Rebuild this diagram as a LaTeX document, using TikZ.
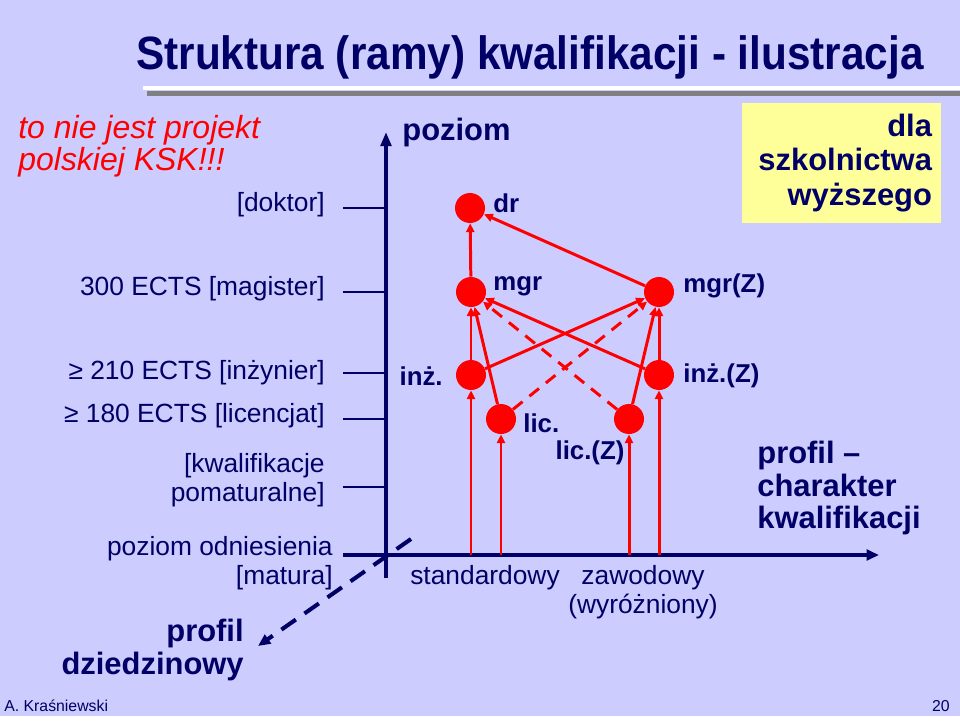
\documentclass[tikz,border=0pt]{standalone}
\usepackage{fontspec}
\setmainfont{Liberation Sans}
\usepackage{graphicx}
\usetikzlibrary{arrows.meta}
\definecolor{slidebg}{RGB}{204,204,255}
\definecolor{navy}{RGB}{0,0,102}
\definecolor{notebg}{RGB}{255,255,153}

\begin{document}
\begin{tikzpicture}[
  x=0.02cm, y=-0.02cm,
  dot/.style={circle, fill=red, inner sep=0pt, minimum size=0.6cm},
  lvl/.style={font=\fontsize{14.7}{16}\selectfont\bfseries, text=navy, inner sep=0pt},
  ects/.style={font=\fontsize{15}{16.5}\selectfont, text=navy, align=right, inner sep=0pt, anchor=east},
  big/.style={font=\fontsize{17.6}{18.7}\selectfont\bfseries, text=navy, inner sep=0pt},
  up/.style={-{Triangle[length=5pt,width=4.6pt]}, draw=red, line width=1.7pt},
  updash/.style={up, dash pattern=on 7pt off 5pt},
  tick/.style={draw=navy, line width=1.1pt},
  axis/.style={draw=navy, line width=2.3pt}
]
  \useasboundingbox (0,0) rectangle (960,720);
  \fill[white] (0,0) rectangle (960,720);
  \fill[slidebg] (0,0) rectangle (960,716);

  % title with bars
  \node[font=\fontsize{26.6}{28}\selectfont\bfseries, text=navy, inner sep=0pt] (title) at (530,57)
    {\scalebox{0.905}[1]{Struktura (ramy) kwalifikacji - ilustracja}};
  \fill[white] (143,86) rectangle (960,90);
  \fill[black!50] (147,91) rectangle (960,96);

  \node[anchor=west, font=\fontsize{18.2}{18.4}\selectfont\itshape, text=red, align=left, inner sep=0pt] (warn)
    at (18,146) {to nie jest projekt\\polskiej KSK!!!};

  \node[fill=notebg, minimum width=3.98cm, minimum height=2.4cm, text width=3.62cm,
    inner sep=0.18cm, align=right, font=\fontsize{17.6}{19.5}\selectfont\bfseries, text=navy] (dla)
    at (841.5,163) {dla\\szkolnictwa\\wyższego};

  % axes
  \coordinate (O) at (386,555);
  \coordinate (ytop) at (386,132);
  \coordinate (ybot) at (386,578);
  \coordinate (xend) at (879,555);
  \coordinate (xbeg) at (343,555);
  \draw[axis, -{Triangle[length=8pt,width=6pt]}] (ybot) -- (ytop);
  \draw[axis, -{Triangle[length=7pt,width=6pt]}] (xbeg) -- (xend);
  \coordinate (zbeg) at (411,539);
  \coordinate (zend) at (258,646);
  \draw[axis, dash pattern=on 10pt off 6pt, -{Triangle[length=7pt,width=6pt]}] (zbeg) -- (zend);

  \node[big, anchor=west] (poziom) at (402,133) {poziom};

  % levels on the vertical axis
  \foreach \y in {208,292,373,419,487} {
    \draw[tick] (343,\y) -- (386,\y);
  }
  \node[ects] (doktor) at (325,205) {[doktor]};
  \node[ects] (magister) at (325,289) {300 ECTS [magister]};
  \node[ects] (inzynier) at (325,373) {≥ 210 ECTS [inżynier]};
  \node[ects] (licencjat) at (325,416) {≥ 180 ECTS [licencjat]};
  \node[ects] (pomatur) at (325,480) {[kwalifikacje\\pomaturalne]};
  \node[ects] (matura) at (333,563) {poziom odniesienia\\{}[matura]};

  % qualifications
  \node[dot] (dr)   at (470,208) {};
  \node[dot] (mgr)  at (471,292) {};
  \node[dot] (mgrZ) at (659,292) {};
  \node[dot] (inz)  at (471,375) {};
  \node[dot] (inzZ) at (659,375) {};
  \node[dot] (lic)  at (501,419) {};
  \node[dot] (licZ) at (629,419) {};

  \node[lvl, anchor=west] (drtxt)   at (493,203) {dr};
  \node[lvl, anchor=west] (mgrtxt)  at (493,286) {mgr};
  \node[lvl, anchor=west] (mgrZtxt) at (683,286) {mgr(Z)};
  \node[lvl, anchor=east] (inztxt)  at (443,376) {inż.};
  \node[lvl, anchor=west] (inzZtxt) at (683,376) {inż.(Z)};
  \node[lvl, anchor=west] (lictxt)  at (523,423) {lic.};
  \node[lvl] (licZtxt) at (590,453) {lic.(Z)};

  \draw[up] (mgr) -- (dr);
  \draw[up] (mgrZ) -- (dr);
  \draw[up] (inz) -- (mgr);
  \draw[up] (lic) -- (mgr);
  \draw[up] (inzZ) -- (mgr);
  \draw[updash] (licZ) -- (mgr);
  \draw[up] (inzZ) -- (mgrZ);
  \draw[up] (licZ) -- (mgrZ);
  \draw[up] (inz) -- (mgrZ);
  \draw[updash] (lic) -- (mgrZ);

  % from the reference level
  \foreach \n/\x in {inz/471,lic/501,licZ/629,inzZ/659} {
    \coordinate (base-\n) at (\x,555);
    \draw[up] (base-\n) -- (\n);
  }

  \node[ects, anchor=center] (standard) at (485,578) {standardowy};
  \node[ects, anchor=center, align=center] (zawod) at (643,592) {zawodowy\\(wyróżniony)};

  \node[big, anchor=west, align=left] (charakter) at (757,488) {profil --\\charakter\\kwalifikacji};
  \node[big, anchor=east, align=right] (dziedzina) at (244,650) {profil\\dziedzinowy};

  % footer
  \node[anchor=west, font=\fontsize{9}{10}\selectfont, text=navy, inner sep=0pt] (autor) at (4,706) {A. Kraśniewski};
  \node[anchor=east, font=\fontsize{9}{10}\selectfont, text=navy, inner sep=0pt] (strona) at (950,706) {20};
\end{tikzpicture}
\end{document}
